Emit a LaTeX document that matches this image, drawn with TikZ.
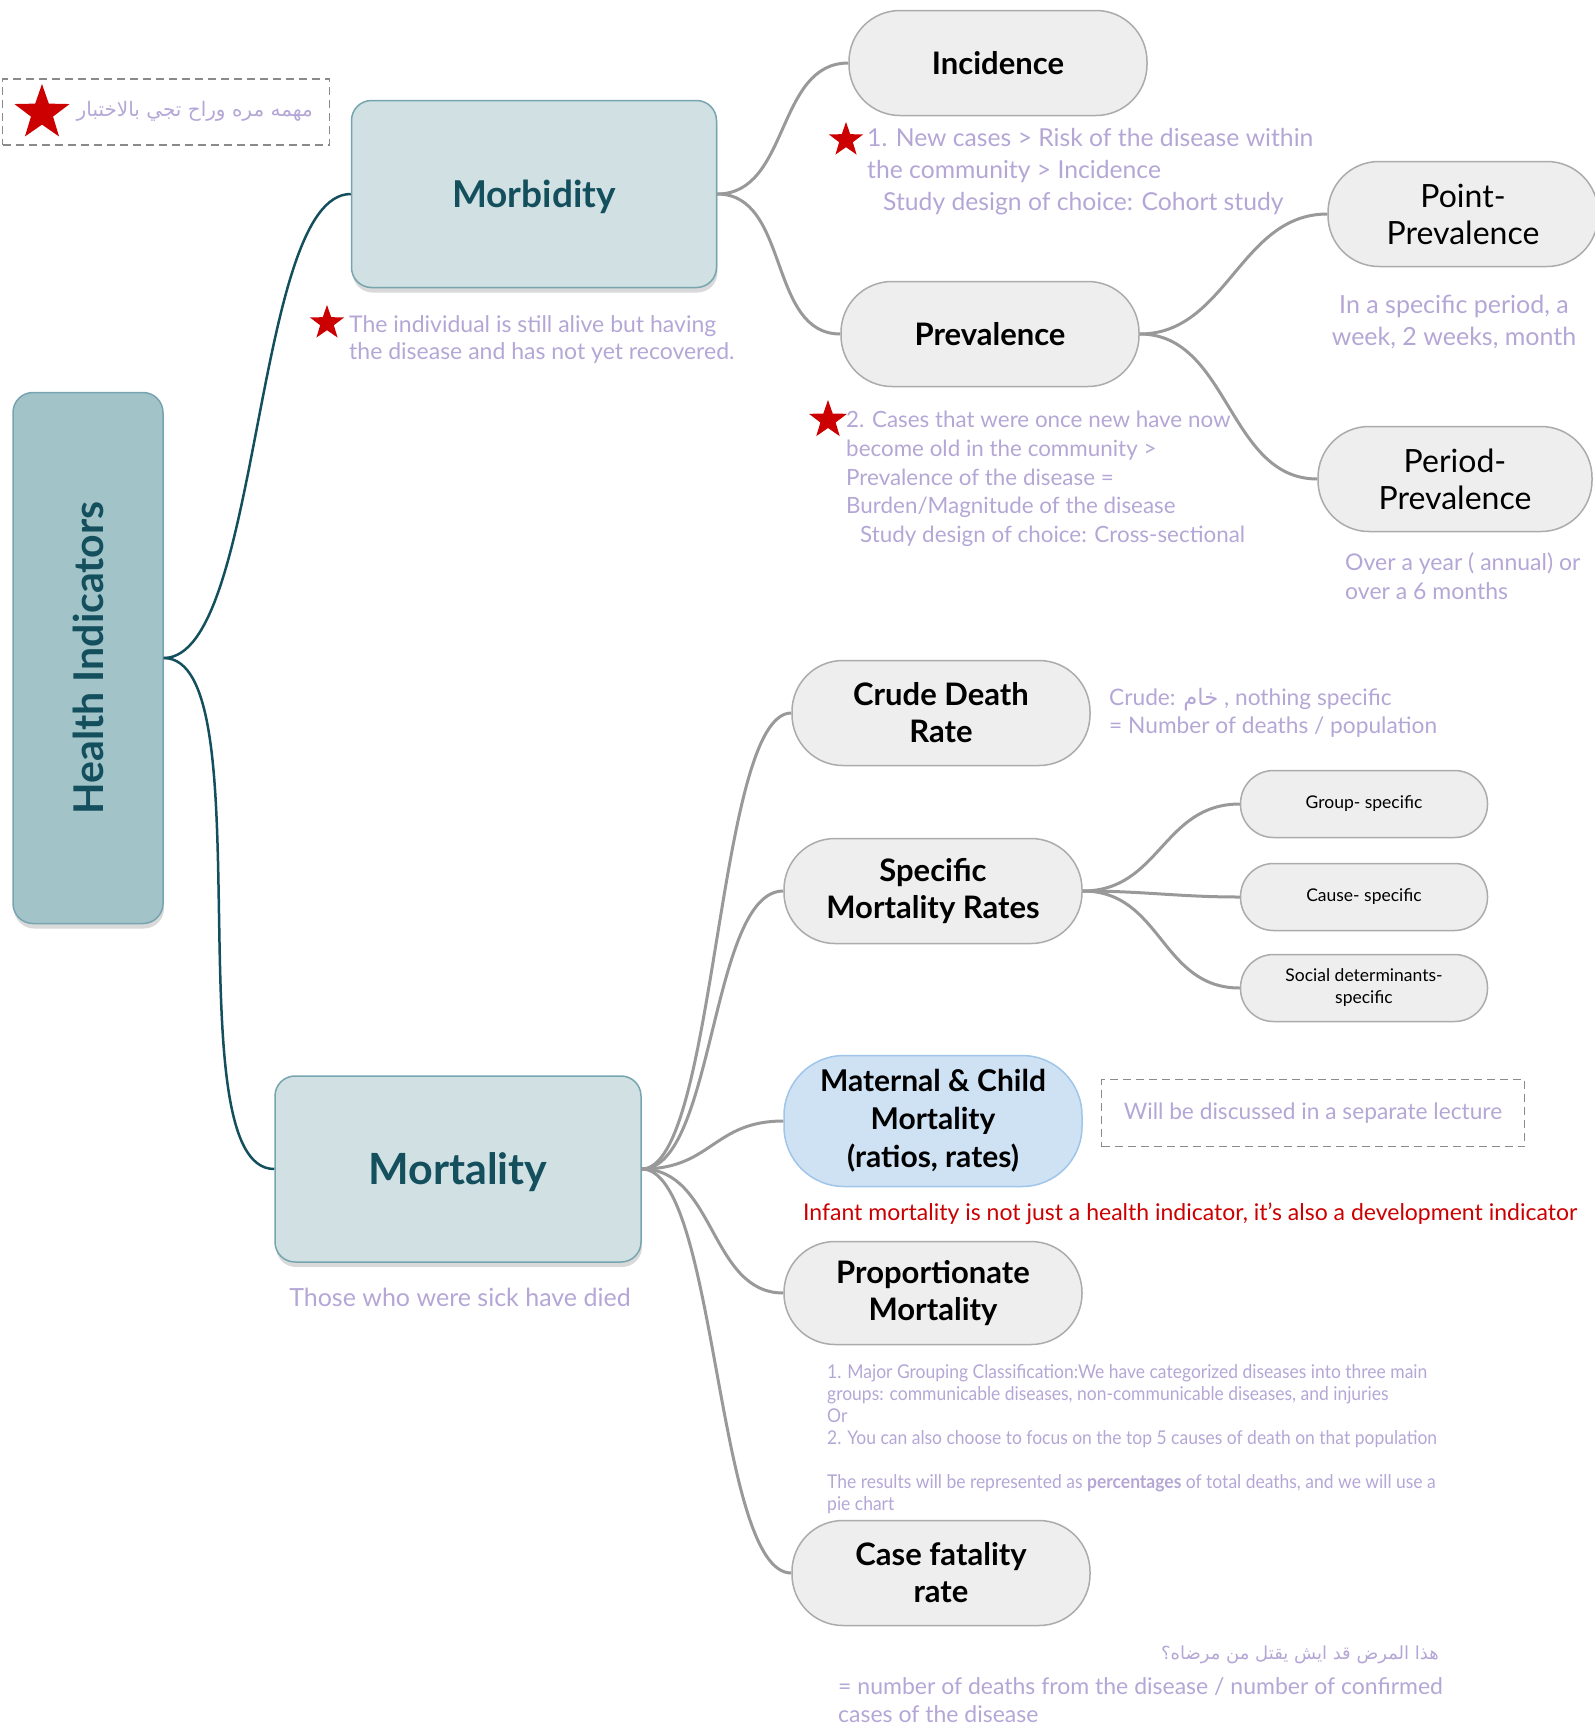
\documentclass[tikz,border=0pt]{standalone}
\usepackage{fontspec}
\setmainfont{Lato}
\newfontfamily\condfont[FakeStretch=0.92]{Lato}
\newfontfamily\arabicfont[Script=Arabic]{DejaVu Sans}
\TeXXeTstate=1
\usetikzlibrary{shapes.geometric, positioning, shadows}
\definecolor{tealdark}{HTML}{134F5C}
\definecolor{tealborder}{HTML}{76A5AF}
\definecolor{morbfill}{HTML}{D0E0E3}
\definecolor{rootfill}{HTML}{A2C4C9}
\definecolor{nodefill}{HTML}{EEEEEE}
\definecolor{nodeborder}{HTML}{ABABAB}
\definecolor{linegray}{HTML}{999999}
\definecolor{lavender}{HTML}{B4A7D6}
\definecolor{starred}{HTML}{CC0000}
\definecolor{mcmfill}{HTML}{CFE2F3}
\definecolor{mcmborder}{HTML}{9FC5E8}
\definecolor{dashgray}{HTML}{8A8A8A}
\newcommand{\fs}[2]{\fontsize{#1}{#2}\selectfont}
\tikzstyle{branch} = [line width=3pt, draw=linegray]
\tikzstyle{trunk} = [line width=2.5pt, draw=tealdark]

\begin{document}
\begin{tikzpicture}[
    x=1pt, y=-1pt,
    rootblock/.style={rectangle, rounded corners=20pt, draw=tealborder, line width=1.5pt, fill=rootfill,
        drop shadow={shadow xshift=1pt, shadow yshift=-5pt, opacity=0.3}},
    mainblock/.style={rectangle, rounded corners=20pt, draw=tealborder, line width=1.5pt, fill=morbfill,
        text=tealdark, text depth=0pt, drop shadow={shadow xshift=1pt, shadow yshift=-5pt, opacity=0.3}},
    topicblock/.style={rectangle, rounded corners=51pt, draw=nodeborder, line width=1.5pt, fill=nodefill,
        minimum width=298pt, minimum height=105pt, align=center, font=\bfseries\fs{31}{37}},
    subblock/.style={rectangle, rounded corners=33pt, draw=nodeborder, line width=1.5pt, fill=nodefill,
        minimum width=247pt, minimum height=67pt, align=center, font=\fs{17.5}{22}},
    noteblock/.style={text=lavender, align=left, inner sep=0pt},
    dashbox/.style={draw=dashgray, line width=1.5pt, dash pattern=on 8pt off 5pt},
    starmark/.style={star, star points=5, star point ratio=2.5, fill=starred, inner sep=0pt, minimum size=36pt},
]
\useasboundingbox (0,0) rectangle (1595,1725);

% Key box
\node[dashbox, minimum width=327pt, minimum height=66pt] (keybox) at (166,112) {};
\node[starmark, minimum size=58pt] (keystar) at (42,113) {};
\node[noteblock, anchor=east, font=\arabicfont\fs{20}{24}] (keytext) at (313,111) {\beginR مهمه مره وراح تجي بالاختبار\endR};

% Root
\node[rootblock, minimum width=150pt, minimum height=531pt] (hi) at (88,658) {};
\node[rotate=90, text=tealdark, font=\bfseries\fs{41}{48}] (hitext) at (hi) {Health Indicators};

% Morbidity and Mortality
\node[mainblock, minimum width=365pt, minimum height=187pt, font=\bfseries\fs{37}{44}] (morb) at (534,194) {Morbidity};
\node[mainblock, minimum width=366pt, minimum height=186pt, font=\bfseries\fs{43}{50}] (mort) at (458,1169) {Mortality};

\node[starmark] (morbstar) at (327,323) {};
\node[noteblock, anchor=west, font=\fs{23}{27}] (morbnote) at (349,339) {The individual is still alive but having\\the disease and has not yet recovered.};
\node[noteblock, font=\fs{25}{30}] (mortnote) at (460,1297) {Those who were sick have died};

% Incidence and Prevalence
\node[topicblock] (inc) at (998,63) {Incidence};
\node[topicblock] (prev) at (990,334) {Prevalence};
\node[topicblock, minimum width=270pt, font=\fs{32}{37}] (point) at (1463,214) {Point-\\Prevalence};
\node[topicblock, minimum width=274pt, font=\fs{32}{37}] (period) at (1455,479) {Period-\\Prevalence};

\node[starmark] (incstar) at (846,140) {};
\node[noteblock, anchor=west, font=\fs{24.7}{32}] (incnote) at (867,172) {1. New cases > Risk of the disease within\\the community > Incidence\\\hspace*{16pt}Study design of choice: Cohort study};
\node[starmark, minimum size=40pt] (prevstar) at (828,420) {};
\node[noteblock, anchor=west, font=\fs{22.4}{28.7}] (prevnote) at (846,479) {2. Cases that were once new have now\\become old in the community >\\Prevalence of the disease =\\Burden/Magnitude of the disease\\\hspace*{14pt}Study design of choice: Cross-sectional};
\node[noteblock, align=center, font=\fs{25}{32}] (pointnote) at (1454,322) {In a specific period, a\\week, 2 weeks, month};
\node[noteblock, anchor=west, font=\fs{23}{29}] (periodnote) at (1345,576) {Over a year ( annual) or\\over a 6 months};

% Mortality branches
\node[topicblock] (crude) at (941,713) {Crude Death\\Rate};
\node[topicblock] (spec) at (933,891) {Specific\\Mortality Rates};
\node[topicblock, minimum height=131pt, fill=mcmfill, draw=mcmborder, rounded corners=60pt,
    font=\bfseries\fs{30}{38}] (mcm) at (933,1121) {Maternal \& Child\\Mortality\\(ratios, rates)};
\node[topicblock, minimum height=103pt] (prop) at (933,1293) {Proportionate\\Mortality};
\node[topicblock] (cfr) at (941,1573) {Case fatality\\rate};

\node[subblock] (grp) at (1364,804) {Group- specific};
\node[subblock] (cause) at (1364,897) {Cause- specific};
\node[subblock] (social) at (1364,988) {Social determinants-\\specific};

\node[noteblock, anchor=west, font=\fs{22.7}{28}] (crudenote) at (1109,713) {Crude: {\arabicfont\beginR خام\endR} , nothing specific\\= Number of deaths / population};
\node[dashbox, minimum width=423pt, minimum height=67pt] (sepbox) at (1313,1113) {};
\node[noteblock, font=\fs{22.7}{28}] (septext) at (sepbox) {Will be discussed in a separate lecture};
\node[noteblock, anchor=west, text=starred, font=\fs{23}{28}] (infnote) at (803,1214) {Infant mortality is not just a health indicator, it{\char"0027}s also a development indicator};
\node[noteblock, anchor=west, font=\condfont\fs{19}{22}] (propnote) at (827,1439) {1. Major Grouping Classification:We have categorized diseases into three main\\groups: communicable diseases, non-communicable diseases, and injuries\\Or\\2. You can also choose to focus on the top 5 causes of death on that population\\[22pt]The results will be represented as {\bfseries percentages} of total deaths, and we will use a\\pie chart};
\node[noteblock, anchor=east, font=\arabicfont\fs{18}{22}] (cfrarab) at (1439,1655) {\beginR هذا المرض قد ايش يقتل من مرضاه؟\endR};
\node[noteblock, anchor=west, font=\fs{23}{28}] (cfrnote) at (838,1700) {= number of deaths from the disease / number of confirmed\\cases of the disease};

% Connectors
\draw[trunk] (hi.east) to[out=0, in=180, looseness=0.5] (morb.west);
\draw[trunk] (hi.east) to[out=0, in=180, looseness=0.5] (mort.west);
\draw[branch] (morb.east) to[out=0, in=180] (inc.west);
\draw[branch] (morb.east) to[out=0, in=180] (prev.west);
\draw[branch] (prev.east) to[out=0, in=180] (point.west);
\draw[branch] (prev.east) to[out=0, in=180] (period.west);
\foreach \dest/\loose in {crude/0.4, spec/0.6, mcm/1.2, prop/1, cfr/0.45}
    \draw[branch] (mort.east) to[out=0, in=180, looseness=\loose] (\dest.west);
\foreach \dest/\loose in {grp/1.1, cause/1, social/1.1}
    \draw[branch] (spec.east) to[out=0, in=180, looseness=\loose] (\dest.west);

\end{tikzpicture}
\end{document}
